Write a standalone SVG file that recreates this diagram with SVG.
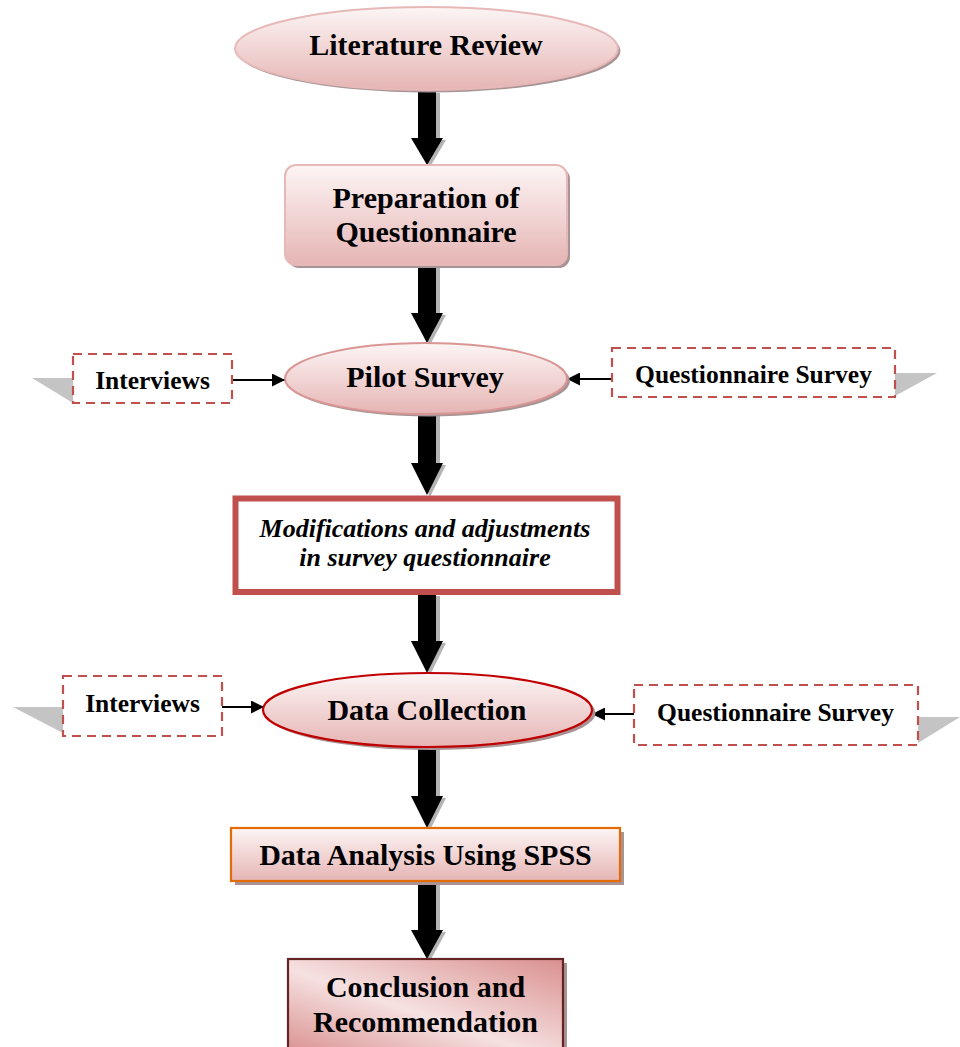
<svg xmlns="http://www.w3.org/2000/svg" width="960" height="1047" viewBox="0 0 960 1047">
  <defs>
    <linearGradient id="pinkV" x1="0" y1="0" x2="0" y2="1">
      <stop offset="0" stop-color="#fdf5f5"/>
      <stop offset="1" stop-color="#e5b5b4"/>
    </linearGradient>
    <linearGradient id="pinkDiag" x1="0" y1="1" x2="1" y2="0">
      <stop offset="0" stop-color="#d9908f"/>
      <stop offset="0.45" stop-color="#f6e1e1"/>
      <stop offset="1" stop-color="#d9908f"/>
    </linearGradient>
    <marker id="tip" viewBox="0 0 10 10" refX="10" refY="5" markerWidth="7" markerHeight="6.5" orient="auto">
      <path d="M0,0 L10,5 L0,10 z" fill="#000"/>
    </marker>
  </defs>
  <style>
    .main { font-family: "Liberation Serif", "Times New Roman", serif; font-weight: bold; font-size: 30px; fill: #000; text-anchor: middle; }
    .side { font-family: "Liberation Serif", "Times New Roman", serif; font-weight: bold; font-size: 25.5px; fill: #000; text-anchor: middle; }
    .ital { font-family: "Liberation Serif", "Times New Roman", serif; font-weight: bold; font-style: italic; font-size: 26px; fill: #000; text-anchor: middle; }
    .shadow { fill: #a89494; }
    .dash { fill: #fff; stroke: #c0504d; stroke-width: 2.2; stroke-dasharray: 9 6; }
    .fold { fill: #c4c4c4; }
    .thin { stroke: #000; stroke-width: 2; fill: none; marker-end: url(#tip); }
    .blk { fill: #000; }
    .blkSh { fill: #b4b4b4; }
  </style>

  <rect width="960" height="1047" fill="#fff"/>

  <!-- vertical block arrows and side connectors -->
  <g id="connectors">
    <!-- Literature Review -> Preparation -->
    <polygon class="blkSh" points="421,93 440,93 440,140 446,140 430,167 414,140 421,140"/>
    <polygon class="blk" points="418,92 436,92 436,138 443,138 427,165 411,138 418,138"/>
    <!-- Preparation -> Pilot Survey -->
    <polygon class="blkSh" points="421,266 440,266 440,315 446,315 430,345 414,315 421,315"/>
    <polygon class="blk" points="418,265 436,265 436,313 443,313 427,343 411,313 418,313"/>
    <!-- Pilot Survey -> Modifications -->
    <polygon class="blkSh" points="421,415 440,415 440,465 446,465 430,497 414,465 421,465"/>
    <polygon class="blk" points="418,414 436,414 436,463 443,463 427,495 411,463 418,463"/>
    <!-- Modifications -> Data Collection -->
    <polygon class="blkSh" points="421,596 440,596 440,643 446,643 430,675 414,643 421,643"/>
    <polygon class="blk" points="418,595 436,595 436,641 443,641 427,673 411,641 418,641"/>
    <!-- Data Collection -> Data Analysis -->
    <polygon class="blkSh" points="421,748 440,748 440,798 446,798 430,830 414,798 421,798"/>
    <polygon class="blk" points="418,747 436,747 436,796 443,796 427,828 411,796 418,796"/>
    <!-- Data Analysis -> Conclusion -->
    <polygon class="blkSh" points="421,884 440,884 440,932 446,932 430,961 414,932 421,932"/>
    <polygon class="blk" points="418,883 436,883 436,930 443,930 427,959 411,930 418,930"/>

    <!-- side inputs -->
    <line class="thin" x1="232" y1="380" x2="285" y2="380"/>
    <line class="thin" x1="612" y1="379" x2="567" y2="379"/>
    <line class="thin" x1="222" y1="707" x2="264" y2="707"/>
    <line class="thin" x1="634" y1="714" x2="592" y2="714"/>
  </g>

  <g id="literature-review">
    <ellipse class="shadow" cx="429" cy="51" rx="191.5" ry="41.5"/>
    <ellipse cx="426.5" cy="48.5" rx="191.5" ry="41.5" fill="url(#pinkV)" stroke="#e6b9b8" stroke-width="2"/>
    <text class="main" x="426" y="55">Literature Review</text>
  </g>

  <g id="preparation">
    <rect class="shadow" x="288" y="168" width="282" height="100" rx="11"/>
    <rect x="285" y="165" width="282" height="100" rx="11" fill="url(#pinkV)" stroke="#e6b9b8" stroke-width="2"/>
    <text class="main" x="426" y="208">Preparation of</text>
    <text class="main" x="426" y="242">Questionnaire</text>
  </g>

  <g id="interviews-1">
    <polygon class="fold" points="32,378 73,378 73,403"/>
    <rect class="dash" x="73" y="354" width="159" height="49"/>
    <text class="side" x="152.5" y="389">Interviews</text>
  </g>

  <g id="pilot-survey">
    <ellipse class="shadow" cx="429" cy="381" rx="141" ry="35.5"/>
    <ellipse cx="426" cy="378.5" rx="141" ry="35.5" fill="url(#pinkV)" stroke="#d99694" stroke-width="2"/>
    <text class="main" x="425" y="387">Pilot Survey</text>
  </g>

  <g id="questionnaire-survey-1">
    <polygon class="fold" points="895,373 937,373 895,396"/>
    <rect class="dash" x="612" y="348" width="283" height="49"/>
    <text class="side" x="753.5" y="383">Questionnaire Survey</text>
  </g>

  <g id="modifications">
    <rect x="235.5" y="498.5" width="382" height="93.5" fill="#fff" stroke="#c0504d" stroke-width="6"/>
    <text class="ital" x="425" y="537">Modifications and adjustments</text>
    <text class="ital" x="425" y="566">in survey questionnaire</text>
  </g>

  <g id="interviews-2">
    <polygon class="fold" points="13,707 63,707 63,733"/>
    <rect class="dash" x="63" y="676" width="159" height="60"/>
    <text class="side" x="142.5" y="712">Interviews</text>
  </g>

  <g id="data-collection">
    <ellipse class="shadow" cx="431" cy="713" rx="164.5" ry="37"/>
    <ellipse cx="427.5" cy="710" rx="164.5" ry="37" fill="url(#pinkV)" stroke="#c00000" stroke-width="2.2"/>
    <text class="main" x="427" y="720">Data Collection</text>
  </g>

  <g id="questionnaire-survey-2">
    <polygon class="fold" points="918,717 960,717 918,743"/>
    <rect class="dash" x="634" y="685" width="284" height="60"/>
    <text class="side" x="775.5" y="721">Questionnaire Survey</text>
  </g>

  <g id="data-analysis">
    <rect class="shadow" x="235" y="832" width="389" height="53"/>
    <rect x="231" y="828" width="389" height="53" fill="url(#pinkV)" stroke="#e36c09" stroke-width="2.2"/>
    <text class="main" x="425.5" y="865">Data Analysis Using SPSS</text>
  </g>

  <g id="conclusion">
    <rect class="shadow" x="292" y="963" width="275" height="90"/>
    <rect x="288" y="959" width="275" height="95" fill="url(#pinkDiag)" stroke="#632523" stroke-width="2.2"/>
    <text class="main" x="425.5" y="997">Conclusion and</text>
    <text class="main" x="425.5" y="1032">Recommendation</text>
  </g>
</svg>
